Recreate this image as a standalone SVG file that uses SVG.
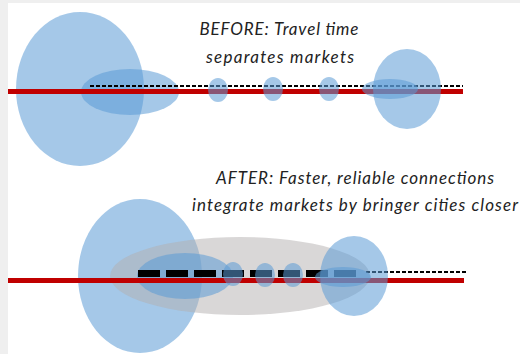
<svg xmlns="http://www.w3.org/2000/svg" width="520" height="354" viewBox="0 0 520 354">
<style>
.blue{fill:#5b9bd5;fill-opacity:0.55}
.gray{fill:#b3b0b0;fill-opacity:0.5}
.rail{stroke:#c00000;stroke-width:5}
.dash{stroke:#000;stroke-width:2;stroke-dasharray:4 2}
.big{stroke:#000;stroke-width:7;stroke-dasharray:22 6}
.t{font-family:Lato,"Liberation Sans",sans-serif;font-style:italic;font-size:17px;fill:#222;text-anchor:middle}
</style>
<rect x="0" y="0" width="520" height="354" fill="#efefef"/>
<rect x="8" y="3" width="512" height="351" fill="#ffffff"/>
<g id="before">
<g id="before-city-left"><ellipse class="blue" cx="80" cy="89" rx="64" ry="77"/><ellipse class="blue" cx="130" cy="92" rx="49" ry="23"/></g>
<g id="connectors-before"><line class="rail" x1="8" y1="91.5" x2="463" y2="91.5"/><line class="dash" x1="90" y1="86" x2="463" y2="86"/></g>
<g id="before-town-1"><ellipse class="blue" cx="218" cy="90" rx="10" ry="12"/></g>
<g id="before-town-2"><ellipse class="blue" cx="273" cy="89" rx="10" ry="12"/></g>
<g id="before-town-3"><ellipse class="blue" cx="329" cy="89" rx="10" ry="12"/></g>
<g id="before-city-right"><ellipse class="blue" cx="407" cy="89" rx="34" ry="40"/><ellipse class="blue" cx="390" cy="89" rx="28" ry="10"/></g>
<g id="before-label"><text class="t" x="279" y="35" textLength="159">BEFORE: Travel time</text><text class="t" x="280" y="63" textLength="148">separates markets</text></g>
</g>
<g id="after">
<g id="after-city-left"><ellipse class="blue" cx="140" cy="276" rx="62" ry="77"/></g>
<g id="after-region"><ellipse class="gray" cx="240" cy="276" rx="130" ry="39"/></g>
<g id="after-city-left-core"><ellipse class="blue" cx="185" cy="276" rx="48" ry="23"/></g>
<g id="connectors-after"><line class="rail" x1="8" y1="280.5" x2="464" y2="280.5"/><line class="big" x1="138" y1="273.5" x2="357" y2="273.5"/><line class="dash" x1="366" y1="272" x2="467" y2="272"/></g>
<g id="after-town-1"><ellipse class="blue" cx="233" cy="274" rx="10" ry="12"/></g>
<g id="after-town-2"><ellipse class="blue" cx="265" cy="275" rx="10" ry="12"/></g>
<g id="after-town-3"><ellipse class="blue" cx="293" cy="275" rx="10" ry="12"/></g>
<g id="after-city-right"><ellipse class="blue" cx="354" cy="276" rx="34" ry="40"/><ellipse class="blue" cx="343" cy="277" rx="28" ry="10"/></g>
<g id="after-label"><text class="t" x="355" y="184" textLength="278">AFTER: Faster, reliable connections</text><text class="t" x="355" y="211" textLength="326">integrate markets by bringer cities closer</text></g>
</g>
</svg>
